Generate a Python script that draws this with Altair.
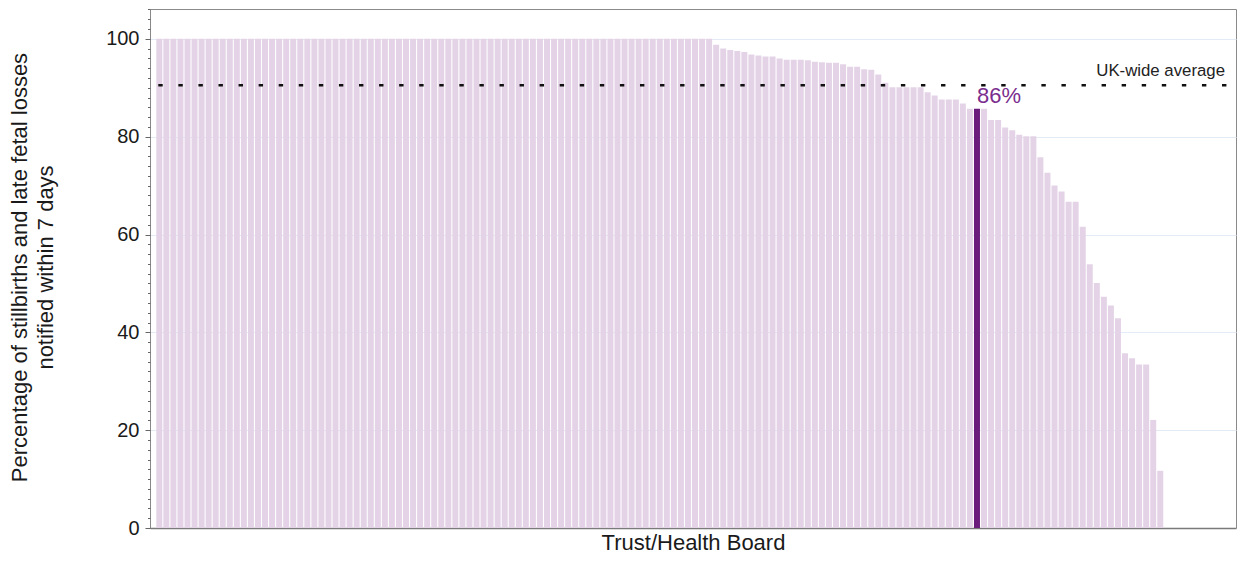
import altair as alt
import pandas as pd

# Percentage notified within 7 days, one bar per Trust/Health Board (sorted)
values = [
    100, 100, 100, 100, 100, 100, 100, 100, 100, 100,
    100, 100, 100, 100, 100, 100, 100, 100, 100, 100,
    100, 100, 100, 100, 100, 100, 100, 100, 100, 100,
    100, 100, 100, 100, 100, 100, 100, 100, 100, 100,
    100, 100, 100, 100, 100, 100, 100, 100, 100, 100,
    100, 100, 100, 100, 100, 100, 100, 100, 100, 100,
    100, 100, 100, 100, 100, 100, 100, 100, 100, 100,
    100, 100, 100, 100, 100, 100, 100, 100, 100,
    98.8, 98.0, 97.7, 97.5, 97.3, 96.8, 96.6, 96.4, 96.4, 96.0,
    95.7, 95.7, 95.7, 95.6, 95.3, 95.2, 95.1, 95.1, 94.8, 94.3,
    94.3, 93.8, 93.7, 92.7, 91.0, 90.1, 90.1, 90.1, 90.1, 90.1,
    89.1, 88.4, 87.6, 87.6, 87.6, 86.8, 85.7, 85.7, 85.7, 83.4,
    83.4, 81.9, 81.3, 80.4, 80.1, 80.1, 75.8, 72.6, 70.0, 68.8,
    66.7, 66.7, 61.6, 53.9, 50.1, 47.3, 45.5, 42.9, 35.7, 34.7,
    33.4, 33.4, 22.1, 11.7,
]
highlight_index = 116
highlight_label = "86%"
uk_average = [90.5]
uk_label = "UK-wide average"
y_title = ["Percentage of stillbirths and late fetal losses", "notified within 7 days"]
x_title = "Trust/Health Board"
y_major = [0, 20, 40, 60, 80, 100]
y_minor = list(range(0, 107, 2))

FONT = "Liberation Sans"
BAR_FRAC = 0.85

df = pd.DataFrame({
    "i": list(range(len(values))),
    "value": values,
})
df["i2"] = df["i"] + BAR_FRAC
df["zero"] = 0
df["kind"] = ["hl" if k == highlight_index else "other" for k in df["i"]]

avg_df = pd.DataFrame({"avg": uk_average, "label": [uk_label]})
hl_df = df[df["kind"] == "hl"].assign(label=highlight_label)

xscale = alt.Scale(domain=[-0.894, 153.17], nice=False, zero=False)
yscale = alt.Scale(domain=[0, 106.1], nice=False)

x_axis = alt.Axis(title=x_title, labels=False, ticks=False, grid=False,
                  domainColor="#7a7a7a", domainWidth=1.5,
                  titleFont=FONT, titleFontSize=22, titleFontWeight="normal",
                  titleColor="#1a1a1a", titleY=21, titleBaseline="alphabetic")

bars = alt.Chart(df).mark_bar(opacity=1).encode(
    x=alt.X("i:Q", scale=xscale, axis=x_axis),
    x2="i2:Q",
    y=alt.Y("value:Q", scale=yscale,
            axis=alt.Axis(title=y_title, values=y_major,
                          orient="left", tickSize=5, tickColor="#666",
                          labelFont=FONT, labelFontSize=20, labelColor="#1a1a1a",
                          labelPadding=6, domainColor="#888",
                          grid=True, gridColor="#E3EBF7", gridWidth=1,
                          titleFont=FONT, titleFontSize=22, titleFontWeight="normal",
                          titleColor="#1a1a1a", titleLineHeight=26,
                          titleAngle=270, titleAlign="center", titleBaseline="alphabetic",
                          titleX=-124, titleY=258)),
    y2="zero:Q",
    color=alt.Color("kind:N", scale=alt.Scale(domain=["other", "hl"],
                                              range=["#E4D3E7", "#6B1B7B"]),
                    legend=None),
)

avg_line = alt.Chart(avg_df).mark_rule(
    color="#111", strokeWidth=2.4, strokeDash=[4.4, 15.67], strokeCap="butt"
).encode(
    x=alt.value(8.3),
    x2=alt.value(1082),
    y=alt.Y("avg:Q", scale=yscale,
            axis=alt.Axis(title=None, orient="left", values=y_minor,
                          labels=False, tickSize=2.5, tickColor="#666",
                          domain=False, grid=False)),
)

avg_text = alt.Chart(avg_df).mark_text(
    align="right", baseline="alphabetic", font=FONT, fontSize=16.8,
    color="#222", dy=-9
).encode(
    x=alt.value(1075),
    y=alt.Y("avg:Q", scale=yscale, axis=None),
    text="label:N",
)

hl_text = alt.Chart(hl_df).mark_text(
    align="left", baseline="alphabetic", font=FONT, fontSize=22,
    color="#7B2D8E", dx=3, dy=-6
).encode(
    x=alt.X("i:Q", scale=xscale, axis=x_axis),
    y=alt.Y("value:Q", scale=yscale, axis=None),
    text="label:N",
)

chart = alt.layer(bars, avg_line, avg_text, hl_text).resolve_axis(
    y="independent"
).properties(
    width=1086,
    height=519,
    autosize=alt.AutoSizeParams(type="none"),
    padding={"left": 142, "top": 1, "right": 1, "bottom": 27},
).configure_view(
    stroke="#8a8a8a", strokeWidth=1
)

chart.save("out.html", embed_options={"renderer": "svg", "actions": False})
